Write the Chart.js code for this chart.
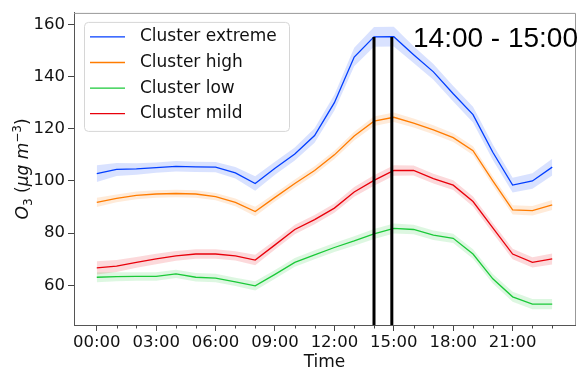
<!DOCTYPE html>
<html>
<head>
<meta charset="utf-8">
<script src="https://cdn.jsdelivr.net/npm/chart.js@4/dist/chart.umd.min.js"></script>
<style>
  html, body { margin: 0; padding: 0; background: #fff; }
</style>
</head>
<body>
<canvas id="ozoneChart" width="582" height="370"></canvas>
<script>
// hourly mean O3 per cluster, with half-width of the confidence band
var hours = [0, 1, 2, 3, 4, 5, 6, 7, 8, 9, 10, 11, 12, 13, 14, 15, 16, 17, 18, 19, 20, 21, 22, 23];

var extreme = [102.8, 104.4, 104.6, 105.1, 105.6, 105.4, 105.3, 103.1, 99.0, 104.9, 110.3, 117.4,
               130.0, 147.5, 155.2, 155.3, 148.4, 141.8, 133.4, 125.4, 111.0, 98.4, 100.0, 105.3];
var high    = [91.8, 93.3, 94.5, 95.0, 95.2, 95.0, 94.0, 91.8, 88.3, 93.7, 99.0, 104.0,
               110.0, 117.2, 122.9, 124.4, 122.2, 119.6, 116.6, 111.6, 100.0, 88.9, 88.6, 90.8];
var low     = [63.1, 63.3, 63.4, 63.4, 64.4, 63.1, 62.8, 61.3, 59.8, 64.2, 68.8, 71.7,
               74.5, 77.0, 79.7, 81.8, 81.4, 79.2, 78.0, 72.0, 62.5, 55.6, 52.8, 52.8];
var mild    = [66.7, 67.4, 68.8, 70.1, 71.3, 72.0, 72.0, 71.3, 69.7, 75.5, 81.4, 85.2,
               89.6, 95.8, 100.2, 104.0, 104.0, 100.9, 98.4, 92.1, 82.0, 72.0, 68.8, 70.1];

var extremeCi = [3.2, 2.5, 2.2, 2.0, 2.0, 2.0, 2.0, 2.2, 2.8, 2.5, 2.5, 2.8,
                 3.0, 3.5, 3.8, 3.8, 3.2, 3.0, 3.0, 3.0, 3.0, 2.8, 3.0, 3.2];
var highCi    = [1.8, 1.5, 1.5, 1.4, 1.4, 1.4, 1.4, 1.5, 1.8, 1.6, 1.6, 1.6,
                 1.6, 1.7, 1.8, 1.8, 1.7, 1.7, 1.7, 1.7, 1.7, 1.8, 1.8, 1.9];
var lowCi     = [1.9, 1.7, 1.6, 1.6, 1.6, 1.6, 1.6, 1.6, 1.8, 1.7, 1.7, 1.7,
                 1.7, 1.8, 1.9, 1.9, 1.8, 1.8, 1.8, 1.8, 1.8, 1.9, 2.0, 2.0];
var mildCi    = [2.5, 2.3, 2.1, 2.0, 1.9, 1.8, 1.8, 1.8, 2.0, 1.8, 1.8, 1.8,
                 1.8, 1.9, 2.0, 2.0, 1.9, 1.9, 1.9, 1.9, 1.9, 2.0, 2.0, 2.1];

var seriesNames = ['Cluster extreme', 'Cluster high', 'Cluster low', 'Cluster mild'];
var seriesColors = ['#023eff', '#ff7c00', '#1ac938', '#e8000b'];

var xTicks = [0, 3, 6, 9, 12, 15, 18, 21];
var yTicks = [60, 80, 100, 120, 140, 160];

// peak window marked on the plot
var windowHours = [14, 14.9];
var windowLabel = '14:00 - 15:00';

var series = [extreme, high, low, mild];
var bands = [extremeCi, highCi, lowCi, mildCi];

function rgba(hex, a) {
  var n = parseInt(hex.slice(1), 16);
  return 'rgba(' + (n >> 16) + ',' + ((n >> 8) & 255) + ',' + (n & 255) + ',' + a + ')';
}

function pts(values, offsets, sign) {
  return hours.map(function (h, i) {
    return { x: h, y: values[i] + (offsets ? sign * offsets[i] : 0) };
  });
}

var datasets = [];
series.forEach(function (values, k) {
  datasets.push({
    data: pts(values, bands[k], -1),
    borderWidth: 0, pointRadius: 0, fill: false, order: 10
  });
  datasets.push({
    data: pts(values, bands[k], 1),
    borderWidth: 0, pointRadius: 0, order: 10,
    fill: '-1', backgroundColor: rgba(seriesColors[k], 0.15)
  });
});
series.forEach(function (values, k) {
  datasets.push({
    label: seriesNames[k],
    data: pts(values),
    borderColor: seriesColors[k],
    borderWidth: 1.3,
    pointRadius: 0,
    fill: false,
    tension: 0,
    order: 1
  });
});

var frame = {
  id: 'frame',
  beforeDatasetsDraw: function (chart) {
    var ctx = chart.ctx, a = chart.chartArea, xs = chart.scales.x;
    ctx.save();
    ctx.strokeStyle = '#999';
    ctx.lineWidth = 1;
    ctx.beginPath();
    ctx.moveTo(a.left, a.top + 0.5);
    ctx.lineTo(a.right + 0.5, a.top + 0.5);
    ctx.lineTo(a.right + 0.5, a.bottom);
    ctx.stroke();
    // hourly minor ticks
    ctx.strokeStyle = '#444';
    ctx.beginPath();
    hours.forEach(function (h) {
      if (h % 3 === 0) return;
      var px = Math.round(xs.getPixelForValue(h)) + 0.5;
      ctx.moveTo(px, a.bottom);
      ctx.lineTo(px, a.bottom + 3.5);
    });
    ctx.stroke();
    ctx.restore();
  },
  afterDatasetsDraw: function (chart) {
    var ctx = chart.ctx, a = chart.chartArea;
    var xs = chart.scales.x, ys = chart.scales.y;
    ctx.save();
    ctx.strokeStyle = '#000';
    ctx.lineWidth = 3;
    var topY = ys.getPixelForValue(extreme[14]);
    windowHours.forEach(function (h) {
      var px = xs.getPixelForValue(h);
      ctx.beginPath();
      ctx.moveTo(px, a.bottom);
      ctx.lineTo(px, topY);
      ctx.stroke();
    });
    ctx.fillStyle = '#000';
    ctx.font = '28px "Liberation Sans", Arial, sans-serif';
    ctx.textAlign = 'right';
    ctx.textBaseline = 'alphabetic';
    ctx.fillText(windowLabel, a.right + 3, a.top + 34);
    ctx.restore();
  },
  afterDraw: function (chart) {
    var ctx = chart.ctx, a = chart.chartArea;
    ctx.save();

    // legend box
    var bx = a.left + 10, by = a.top + 9, bw = 205, bh = 109;
    ctx.fillStyle = 'rgba(255,255,255,0.8)';
    ctx.strokeStyle = '#d6d6d6';
    ctx.lineWidth = 1;
    ctx.beginPath();
    ctx.roundRect(bx + 0.5, by + 0.5, bw, bh, 4);
    ctx.fill();
    ctx.stroke();
    ctx.font = '17px "DejaVu Sans"';
    ctx.textBaseline = 'middle';
    ctx.textAlign = 'left';
    seriesNames.forEach(function (name, k) {
      var ry = by + 15 + k * 25.6;
      ctx.strokeStyle = seriesColors[k];
      ctx.lineWidth = 1.3;
      ctx.beginPath();
      ctx.moveTo(bx + 6, ry);
      ctx.lineTo(bx + 41, ry);
      ctx.stroke();
      ctx.fillStyle = '#111';
      ctx.fillText(name, bx + 56, ry);
    });

    // y axis label: O3 (ug m^-3)
    var parts = [
      { t: 'O', f: 'italic 17px "DejaVu Sans"', dy: 0 },
      { t: '3', f: '12px "DejaVu Sans"', dy: 4 },
      { t: ' (', f: '17px "DejaVu Sans"', dy: 0 },
      { t: 'μg m', f: 'italic 17px "DejaVu Sans"', dy: 0 },
      { t: '−3', f: '12px "DejaVu Sans"', dy: -7 },
      { t: ')', f: '17px "DejaVu Sans"', dy: 0 }
    ];
    var total = 0;
    parts.forEach(function (p) { ctx.font = p.f; p.w = ctx.measureText(p.t).width; total += p.w; });
    ctx.translate(22, (a.top + a.bottom) / 2);
    ctx.rotate(-Math.PI / 2);
    ctx.fillStyle = '#111';
    ctx.textBaseline = 'alphabetic';
    var cx = -total / 2;
    parts.forEach(function (p) {
      ctx.font = p.f;
      ctx.fillText(p.t, cx, 6 + p.dy);
      cx += p.w;
    });
    ctx.restore();
  }
};

new Chart(document.getElementById('ozoneChart'), {
  type: 'line',
  data: { datasets: datasets },
  plugins: [frame],
  options: {
    responsive: false,
    animation: false,
    layout: { padding: { left: 0, top: 8, right: 7, bottom: 0 } },
    plugins: { legend: { display: false }, tooltip: { enabled: false } },
    scales: {
      x: {
        type: 'linear',
        min: -1.15,
        max: 24.15,
        afterFit: function (s) { s.height = 45; },
        afterBuildTicks: function (s) { s.ticks = xTicks.map(function (v) { return { value: v }; }); },
        ticks: {
          padding: 2,
          color: '#111',
          font: { family: 'DejaVu Sans', size: 16.5 },
          maxRotation: 0,
          callback: function (v) { return (v < 10 ? '0' : '') + v + ':00'; }
        },
        grid: { drawOnChartArea: false, tickLength: 6, color: '#444' },
        border: { color: '#555' },
        title: {
          display: true, text: 'Time', color: '#111',
          font: { family: 'DejaVu Sans', size: 17 },
          padding: { top: 0, bottom: -3 }
        }
      },
      y: {
        min: 44.8,
        max: 164.4,
        afterFit: function (s) { s.width = 74; },
        afterBuildTicks: function (s) { s.ticks = yTicks.map(function (v) { return { value: v }; }); },
        ticks: { padding: 3, color: '#111', font: { family: 'DejaVu Sans', size: 16.5 } },
        grid: { drawOnChartArea: false, tickLength: 6, color: '#444' },
        border: { color: '#555' }
      }
    }
  }
});
</script>
</body>
</html>
